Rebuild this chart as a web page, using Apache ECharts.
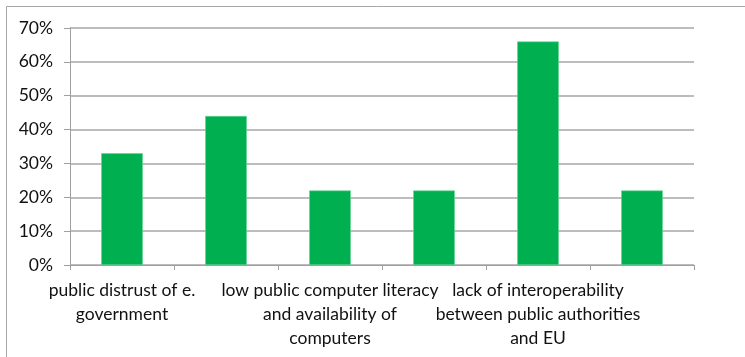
<!DOCTYPE html>
<html>
<head>
<meta charset="utf-8">
<script src="https://cdn.jsdelivr.net/npm/echarts@6/dist/echarts.min.js"></script>
<style>
html,body{margin:0;padding:0;background:#fff;}
#chart{width:745px;height:357px;}
</style>
</head>
<body>
<div id="chart"></div>
<script>
const categories = [
  "public distrust of e.\ngovernment",
  "",
  "low public computer literacy\nand availability of\ncomputers",
  "",
  "lack of interoperability\nbetween public authorities\nand EU",
  ""
];
const values = [33, 44, 22, 22, 66, 22];
const yTicks = [0, 10, 20, 30, 40, 50, 60, 70];

const FONT = "Lato, 'Open Sans', sans-serif";
const chart = echarts.init(document.getElementById('chart'));
chart.setOption({
  animation: false,
  backgroundColor: '#fff',
  graphic: [{
    type: 'rect',
    shape: {x: 6.5, y: 6.5, width: 800, height: 400},
    style: {fill: 'none', stroke: '#a6a6a6', lineWidth: 1},
    silent: true
  }],
  grid: {left: 70, right: 51, top: 28, bottom: 92, containLabel: false},
  xAxis: {
    type: 'category',
    data: categories,
    axisLine: {lineStyle: {color: '#a0a0a0', width: 1}},
    axisTick: {show: true, interval: 0, alignWithLabel: false, length: 5, lineStyle: {color: '#a0a0a0'}},
    axisLabel: {interval: 0, color: '#111', fontFamily: FONT, fontSize: 17.5, lineHeight: 24, margin: 13}
  },
  yAxis: {
    type: 'value',
    min: yTicks[0],
    max: yTicks[yTicks.length - 1],
    interval: 10,
    axisLine: {show: true, lineStyle: {color: '#a0a0a0', width: 1}},
    axisTick: {show: true, length: 6, lineStyle: {color: '#a0a0a0'}},
    splitLine: {lineStyle: {color: '#a6a6a6', width: 1.5}},
    axisLabel: {color: '#111', fontFamily: FONT, fontSize: 17.5, margin: 17, formatter: v => v + '%'}
  },
  series: [{
    type: 'bar',
    data: values,
    barWidth: '40%',
    itemStyle: {color: '#00B050', borderColor: '#5fd394', borderWidth: 0.6}
  }]
});
</script>
</body>
</html>
